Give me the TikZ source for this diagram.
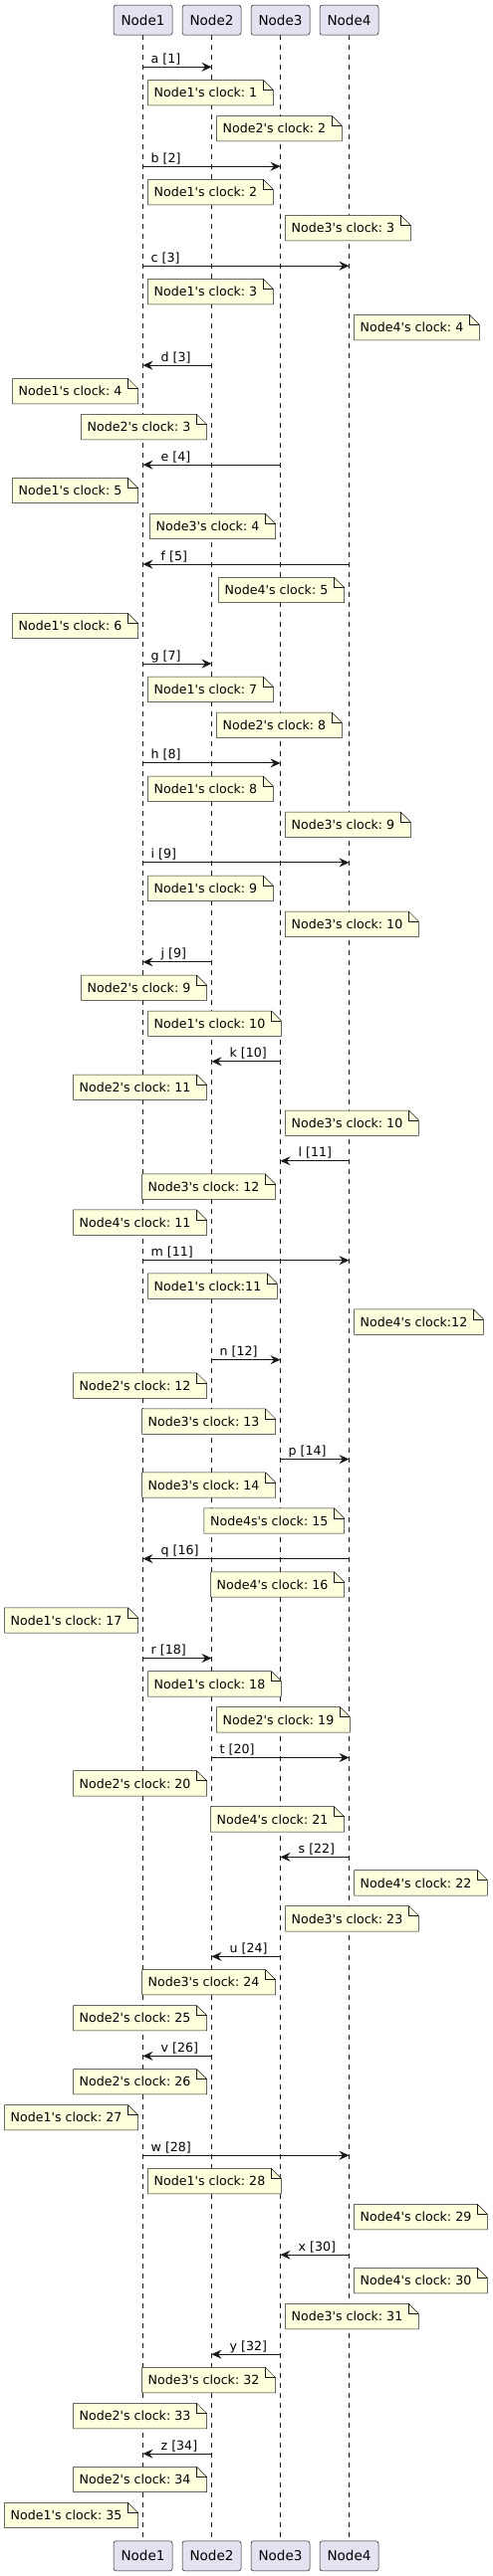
\documentclass[tikz,border=0pt]{standalone}
\usepackage{fontspec}
\setmainfont{DejaVu Sans}
\usetikzlibrary{arrows.meta}
\pgfdeclarelayer{lines}
\pgfdeclarelayer{notebg}
\pgfsetlayers{lines,notebg,main}
\definecolor{ink}{HTML}{181818}
\definecolor{notefill}{HTML}{FEFFDD}
\definecolor{headfill}{HTML}{E2E2F0}
\tikzset{
  head/.style={draw=ink, line width=0.5pt, fill=headfill, rounded corners=2.5pt,
    minimum width=59pt, minimum height=30pt, inner sep=0pt, font=\fontsize{13.55}{16}\selectfont},
  life/.style={draw=ink, line width=0.5pt, dash pattern=on 5pt off 5pt},
  msgline/.style={draw=ink, line width=1pt, -{Stealth[length=10pt,width=9pt,inset=3.5pt]}},
  msglabel/.style={anchor=base west, inner sep=0pt, font=\fontsize{12.6}{15}\selectfont},
  notebox/.style={inner sep=0pt, minimum height=25pt, font=\fontsize{12.6}{15}\selectfont},
  noteshape/.style={draw=ink, line width=0.5pt, fill=notefill, line join=miter},
  notefold/.style={draw=ink, line width=0.5pt},
}
\def\lxi{143.5}
\def\lxii{212.5}
\def\lxiii{281.5}
\def\lxiv{350.5}
\newcommand\ap{\textquotesingle}
\newcommand\msg[4]{%
  \pgfmathsetmacro\my{67.3+99.95*#1}%
  \edef\xs{\csname lx\romannumeral#2\endcsname}%
  \edef\xe{\csname lx\romannumeral#3\endcsname}%
  \coordinate (s#1) at (\xs,\my);
  \coordinate (e#1) at (\xe,\my);
  \draw[msgline] (s#1) -- (e#1);
  \ifnum#2<#3\relax
    \node[msglabel] (t#1) at ([shift={(8pt,4pt)}]s#1) {#4};
  \else
    \node[msglabel] (t#1) at ([shift={(18pt,4pt)}]e#1) {#4};
  \fi
}
\newcommand\clocknote[5]{%
  \pgfmathsetmacro\ny{67.3+99.95*#1+(#2==1?13.2:49.2)}%
  \edef\xl{\csname lx\romannumeral#3\endcsname}%
  \if#4R
    \node[notebox,anchor=north west] (n#1-#2) at (\xl+5,\ny) {\hspace*{6pt}#5\hspace*{16pt}};
  \else
    \node[notebox,anchor=north east] (n#1-#2) at (\xl-5,\ny) {\hspace*{6pt}#5\hspace*{16pt}};
  \fi
  \begin{pgfonlayer}{notebg}
  \path[noteshape] (n#1-#2.north west) -- ([xshift=-10pt]n#1-#2.north east)
     -- ([yshift=-10pt]n#1-#2.north east) -- (n#1-#2.south east) -- (n#1-#2.south west) -- cycle;
  \path[notefold] ([xshift=-10pt]n#1-#2.north east) |- ([yshift=-10pt]n#1-#2.north east);
  \end{pgfonlayer}
}
\begin{document}
\frenchspacing
\begin{tikzpicture}[x=1pt,y=-1pt]
\useasboundingbox (0,0) rectangle (495,2589);
\foreach \i/\x in {1/143.5,2/212.5,3/281.5,4/350.5}{
  \node[head] (h\i) at (\x,20.2) {Node\i};
  \node[head] (f\i) at (\x,2568.8) {Node\i};
  \begin{pgfonlayer}{lines}
    \draw[life] (h\i.south) -- (f\i.north);
  \end{pgfonlayer}
}
\msg{0}{1}{2}{a [1]}
\clocknote{0}{1}{1}{R}{Node1\ap s clock: 1}
\clocknote{0}{2}{2}{R}{Node2\ap s clock: 2}
\msg{1}{1}{3}{b [2]}
\clocknote{1}{1}{1}{R}{Node1\ap s clock: 2}
\clocknote{1}{2}{3}{R}{Node3\ap s clock: 3}
\msg{2}{1}{4}{c [3]}
\clocknote{2}{1}{1}{R}{Node1\ap s clock: 3}
\clocknote{2}{2}{4}{R}{Node4\ap s clock: 4}
\msg{3}{2}{1}{d [3]}
\clocknote{3}{1}{1}{L}{Node1\ap s clock: 4}
\clocknote{3}{2}{2}{L}{Node2\ap s clock: 3}
\msg{4}{3}{1}{e [4]}
\clocknote{4}{1}{1}{L}{Node1\ap s clock: 5}
\clocknote{4}{2}{3}{L}{Node3\ap s clock: 4}
\msg{5}{4}{1}{f [5]}
\clocknote{5}{1}{4}{L}{Node4\ap s clock: 5}
\clocknote{5}{2}{1}{L}{Node1\ap s clock: 6}
\msg{6}{1}{2}{g [7]}
\clocknote{6}{1}{1}{R}{Node1\ap s clock: 7}
\clocknote{6}{2}{2}{R}{Node2\ap s clock: 8}
\msg{7}{1}{3}{h [8]}
\clocknote{7}{1}{1}{R}{Node1\ap s clock: 8}
\clocknote{7}{2}{3}{R}{Node3\ap s clock: 9}
\msg{8}{1}{4}{i [9]}
\clocknote{8}{1}{1}{R}{Node1\ap s clock: 9}
\clocknote{8}{2}{3}{R}{Node3\ap s clock: 10}
\msg{9}{2}{1}{j [9]}
\clocknote{9}{1}{2}{L}{Node2\ap s clock: 9}
\clocknote{9}{2}{1}{R}{Node1\ap s clock: 10}
\msg{10}{3}{2}{k [10]}
\clocknote{10}{1}{2}{L}{Node2\ap s clock: 11}
\clocknote{10}{2}{3}{R}{Node3\ap s clock: 10}
\msg{11}{4}{3}{l [11]}
\clocknote{11}{1}{3}{L}{Node3\ap s clock: 12}
\clocknote{11}{2}{2}{L}{Node4\ap s clock: 11}
\msg{12}{1}{4}{m [11]}
\clocknote{12}{1}{1}{R}{Node1\ap s clock:11}
\clocknote{12}{2}{4}{R}{Node4\ap s clock:12}
\msg{13}{2}{3}{n [12]}
\clocknote{13}{1}{2}{L}{Node2\ap s clock: 12}
\clocknote{13}{2}{3}{L}{Node3\ap s clock: 13}
\msg{14}{3}{4}{p [14]}
\clocknote{14}{1}{3}{L}{Node3\ap s clock: 14}
\clocknote{14}{2}{4}{L}{Node4s\ap s clock: 15}
\msg{15}{4}{1}{q [16]}
\clocknote{15}{1}{4}{L}{Node4\ap s clock: 16}
\clocknote{15}{2}{1}{L}{Node1\ap s clock: 17}
\msg{16}{1}{2}{r [18]}
\clocknote{16}{1}{1}{R}{Node1\ap s clock: 18}
\clocknote{16}{2}{2}{R}{Node2\ap s clock: 19}
\msg{17}{2}{4}{t [20]}
\clocknote{17}{1}{2}{L}{Node2\ap s clock: 20}
\clocknote{17}{2}{4}{L}{Node4\ap s clock: 21}
\msg{18}{4}{3}{s [22]}
\clocknote{18}{1}{4}{R}{Node4\ap s clock: 22}
\clocknote{18}{2}{3}{R}{Node3\ap s clock: 23}
\msg{19}{3}{2}{u [24]}
\clocknote{19}{1}{3}{L}{Node3\ap s clock: 24}
\clocknote{19}{2}{2}{L}{Node2\ap s clock: 25}
\msg{20}{2}{1}{v [26]}
\clocknote{20}{1}{2}{L}{Node2\ap s clock: 26}
\clocknote{20}{2}{1}{L}{Node1\ap s clock: 27}
\msg{21}{1}{4}{w [28]}
\clocknote{21}{1}{1}{R}{Node1\ap s clock: 28}
\clocknote{21}{2}{4}{R}{Node4\ap s clock: 29}
\msg{22}{4}{3}{x [30]}
\clocknote{22}{1}{4}{R}{Node4\ap s clock: 30}
\clocknote{22}{2}{3}{R}{Node3\ap s clock: 31}
\msg{23}{3}{2}{y [32]}
\clocknote{23}{1}{3}{L}{Node3\ap s clock: 32}
\clocknote{23}{2}{2}{L}{Node2\ap s clock: 33}
\msg{24}{2}{1}{z [34]}
\clocknote{24}{1}{2}{L}{Node2\ap s clock: 34}
\clocknote{24}{2}{1}{L}{Node1\ap s clock: 35}
\end{tikzpicture}
\end{document}
